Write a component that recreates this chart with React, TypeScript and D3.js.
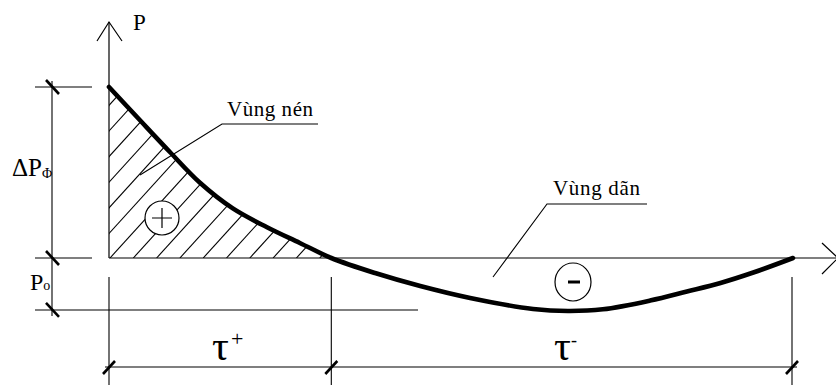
import React, { useRef, useEffect } from "react";
import { select, scaleLinear, line, area, curveCatmullRom, range } from "d3";

// time (% of full phase) and overpressure (relative to ΔPΦ)
const times = [0, 4.5, 8.9, 13.3, 18.1, 23.1, 27.9, 32.5, 38.9, 45.5, 52.8, 62, 67.1, 72.2, 79.1, 84.5, 89.4, 94.2, 100];
const pressures = [1, 0.807, 0.62, 0.44, 0.29, 0.18, 0.088, 0, -0.088, -0.164, -0.234, -0.298, -0.31, -0.3, -0.249, -0.196, -0.146, -0.085, 0];

const tPlus = 32.5; // end of compression phase
const pMin = -0.304; // P0 level
const zoneLabels = ["Vùng nén", "Vùng dãn"];
const axisLabel = "P";

const W = 836;
const H = 385;
const FONT = "'Liberation Serif', 'Times New Roman', 'DejaVu Serif', serif";

function App() {
  const svgRef = useRef<SVGSVGElement>(null);

  useEffect(() => {
    const svg = select(svgRef.current);
    svg.selectAll("*").remove();

    const xscale = scaleLinear().domain([0, 100]).range([109, 793]);
    const yscale = scaleLinear().domain([0, 1]).range([258, 87]);

    const data = times.map((t, i) => ({ t, p: pressures[i] }));
    const x0 = xscale(0);
    const y0 = yscale(0);
    const yTop = yscale(1);
    const yMin = yscale(pMin);
    const xPlus = xscale(tPlus);
    const xEnd = xscale(100);

    const g = svg.append("g").attr("stroke", "#000").attr("fill", "none");

    // hatched compression zone
    const posArea = area<{ t: number; p: number }>()
      .x(d => xscale(d.t))
      .y0(y0)
      .y1(d => yscale(d.p))
      .curve(curveCatmullRom);
    const defs = svg.append("defs");
    defs.append("clipPath").attr("id", "plusZone")
      .append("path")
      .attr("d", posArea(data.filter(d => d.t <= tPlus)) || "");

    const slope = 1.1;
    g.append("g")
      .attr("clip-path", "url(#plusZone)")
      .selectAll("line")
      .data(range(x0 + 1 - 23.3 * 8, xPlus, 23.3))
      .join("line")
      .attr("x1", d => d)
      .attr("y1", y0)
      .attr("x2", d => d + 200)
      .attr("y2", y0 - 200 * slope)
      .attr("stroke-width", 1.1);

    // axes
    g.append("line").attr("x1", x0).attr("y1", y0).attr("x2", W + 2).attr("y2", y0).attr("stroke-width", 1.2);
    g.append("line").attr("x1", x0).attr("y1", y0).attr("x2", x0).attr("y2", 22).attr("stroke-width", 1.2);
    g.append("path").attr("d", `M${x0 - 12},41L${x0},22L${x0 + 13},41`).attr("stroke-width", 1.2);
    g.append("path").attr("d", `M822,243L838,${y0}L822,274`).attr("stroke-width", 1.2);

    // extension lines
    const ext: [number, number, number, number][] = [
      [35, yTop, 92, yTop],
      [35, y0, 92, y0],
      [35, yMin, 418, yMin],
      [52, yTop - 6, 52, yMin + 6],
      [x0, 277, x0, H],
      [xPlus, 277, xPlus, H],
      [xEnd - 1, 277, xEnd - 1, H],
      [105, 367, xEnd + 4, 367],
    ];
    g.selectAll(".ext")
      .data(ext)
      .join("line")
      .attr("class", "ext")
      .attr("x1", d => d[0]).attr("y1", d => d[1])
      .attr("x2", d => d[2]).attr("y2", d => d[3])
      .attr("stroke-width", 1.1);

    // dimension ticks
    const vTicks = [yTop, y0, yMin];
    g.selectAll(".vtick")
      .data(vTicks)
      .join("line")
      .attr("class", "vtick")
      .attr("x1", 46).attr("x2", 59)
      .attr("y1", d => d - 7).attr("y2", d => d + 7)
      .attr("stroke-width", 2.6);
    const hTicks = [x0, xPlus, xEnd - 1];
    g.selectAll(".htick")
      .data(hTicks)
      .join("line")
      .attr("class", "htick")
      .attr("x1", d => d - 6).attr("x2", d => d + 6)
      .attr("y1", 374).attr("y2", 361)
      .attr("stroke-width", 2.6);

    // pressure curve
    const myLine = line<{ t: number; p: number }>()
      .x(d => xscale(d.t))
      .y(d => yscale(d.p))
      .curve(curveCatmullRom);
    g.append("path")
      .attr("d", myLine(data) || "")
      .attr("stroke-width", 4.6)
      .attr("stroke-linecap", "round");

    // leaders
    g.append("path").attr("d", "M318,124L222,124L140,175").attr("stroke-width", 1.1);
    g.append("path").attr("d", "M647,204L547,204L493,277").attr("stroke-width", 1.1);

    // sign circles
    g.append("circle").attr("cx", 162).attr("cy", 218).attr("r", 17).attr("fill", "#fff").attr("stroke-width", 1.2);
    g.append("path").attr("d", "M152,218H172M162,208V228").attr("stroke-width", 1.2);
    g.append("ellipse").attr("cx", 573).attr("cy", 282).attr("rx", 18).attr("ry", 19).attr("fill", "#fff").attr("stroke-width", 1.2);
    g.append("line").attr("x1", 568).attr("x2", 580).attr("y1", 282).attr("y2", 282).attr("stroke-width", 3);

    // texts
    const t = svg.append("g").style("font-family", FONT).attr("fill", "#000");
    t.append("text").attr("x", 133).attr("y", 30).attr("font-size", 23).text(axisLabel);
    t.append("text").attr("x", 227).attr("y", 116).attr("font-size", 21).attr("textLength", 86).text(zoneLabels[0]);
    t.append("text").attr("x", 553).attr("y", 195).attr("font-size", 21).attr("textLength", 87).text(zoneLabels[1]);

    const dp = t.append("text").attr("x", 12).attr("y", 176).attr("font-size", 25);
    dp.append("tspan").text("ΔP");
    dp.append("tspan").attr("font-size", 14).attr("dy", 2).text("Φ");

    const p0 = t.append("text").attr("x", 30).attr("y", 290).attr("font-size", 24);
    p0.append("tspan").text("P");
    p0.append("tspan").attr("font-size", 14).text("o");

    const tp = t.append("text").attr("x", 212).attr("y", 360).attr("font-size", 42);
    tp.append("tspan").text("τ");
    tp.append("tspan").attr("font-size", 22).attr("dy", -14).attr("dx", 2).text("+");

    const tm = t.append("text").attr("x", 554).attr("y", 360).attr("font-size", 42);
    tm.append("tspan").text("τ");
    tm.append("tspan").attr("font-size", 18).attr("dy", -14).text("-");
  }, []);

  return (
    <svg ref={svgRef} width={W} height={H} style={{ position: "absolute", left: 0, top: 0, background: "#fff" }}></svg>
  );
}

export default App;
